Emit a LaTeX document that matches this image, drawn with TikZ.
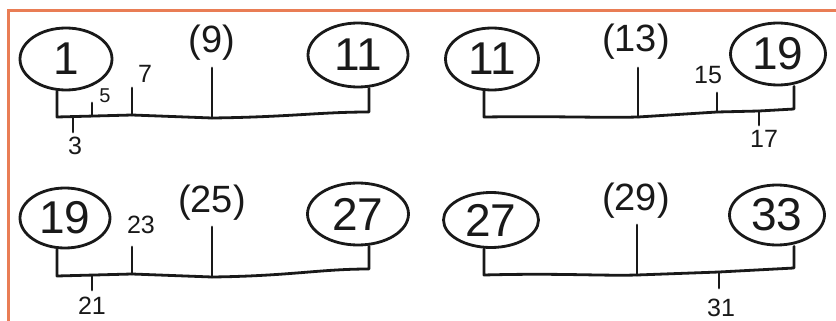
\documentclass[tikz,border=0pt]{standalone}
\usepackage{fontspec}
\setmainfont{Liberation Sans}
\usetikzlibrary{shapes.geometric}
\definecolor{frameorange}{RGB}{233,125,85}
\definecolor{ink}{RGB}{25,25,25}
\begin{document}
\begin{tikzpicture}[x=1pt,y=-1pt,
  oval/.style={ellipse,draw=ink,line width=2.8pt,inner sep=0pt,text=ink,font=\fontsize{46}{46}\selectfont},
  big/.style={text=ink,inner sep=0pt,font=\fontsize{38}{38}\selectfont},
  small/.style={text=ink,inner sep=0pt,font=\fontsize{25}{25}\selectfont},
  tiny/.style={text=ink,inner sep=0pt,font=\fontsize{20}{20}\selectfont},
  wire/.style={draw=ink,line width=2.8pt,line join=round,line cap=round}]
\useasboundingbox (0,0) rectangle (836,321);
\fill[white] (0,0) rectangle (836,321);
% orange frame
\coordinate (fTL) at (8.5,11);
\coordinate (fTR) at (836,11);
\coordinate (fBL) at (8.5,321);
\draw[frameorange,line width=3pt] (fBL) -- (fTL) -- (fTR);

% ---------- panel 1 ----------
\node[oval,minimum width=92pt,minimum height=62pt] (pA1) at (66,59) {1};
\node[oval,minimum width=100pt,minimum height=64pt] (pA11) at (358,55) {11};
\coordinate (a0) at (57,117);
\coordinate (a3) at (73,116.5);
\coordinate (a5) at (92,116);
\coordinate (a7) at (132,115);
\coordinate (a9) at (212,118);
\coordinate (aR) at (369,112);
\draw[wire] (pA1.south -| a0) -- (a0) -- (a7) -- (a9) .. controls (290,117) and (320,112) .. (aR) -- (pA11.south -| aR);
\coordinate (a3b) at (73,132);
\coordinate (a5t) at (92,103);
\coordinate (a7t) at (132,88);
\coordinate (a9t) at (212,68);
\draw[wire] (a3) -- (a3b);
\draw[wire] (a5) -- (a5t);
\draw[wire] (a7) -- (a7t);
\draw[wire] (a9) -- (a9t);
\node[small] (lA3) at (75,146) {3};
\node[tiny] (lA5) at (105,96) {5};
\node[small] (lA7) at (145,74) {7};
\node[big] (lA9) at (212,43) {(9)};

% ---------- panel 2 ----------
\node[oval,minimum width=93pt,minimum height=62pt] (pB11) at (492,59) {11};
\node[oval,minimum width=95pt,minimum height=62pt] (pB19) at (778,54) {19};
\coordinate (b0) at (484,117);
\coordinate (b13) at (638,117);
\coordinate (b15) at (717,112);
\coordinate (b17) at (759,111);
\coordinate (bR) at (794,109);
\draw[wire] (pB11.south -| b0) -- (b0) .. controls (560,116) and (600,118) .. (b13) -- (b15) -- (b17) -- (bR) -- (pB19.south -| bR);
\coordinate (b13t) at (638,68);
\coordinate (b15t) at (717,93);
\coordinate (b17b) at (759,125);
\draw[wire] (b13) -- (b13t);
\draw[wire] (b15) -- (b15t);
\draw[wire] (b17) -- (b17b);
\node[big] (lB13) at (636,42) {(13)};
\node[small] (lB15) at (708,75) {15};
\node[small] (lB17) at (764,139) {17};

% ---------- panel 3 ----------
\node[oval,minimum width=90pt,minimum height=60pt] (pC19) at (65,218) {19};
\node[oval,minimum width=101pt,minimum height=62pt] (pC27) at (358,214) {27};
\coordinate (c0) at (57,276);
\coordinate (c21) at (92,275.5);
\coordinate (c23) at (132,274);
\coordinate (c25) at (212,277);
\coordinate (cR) at (369,269);
\draw[wire] (pC19.south -| c0) -- (c0) -- (c23) -- (c25) .. controls (290,276) and (320,269) .. (cR) -- (pC27.south -| cR);
\coordinate (c21b) at (92,290);
\coordinate (c23t) at (132,247);
\coordinate (c25t) at (212,227);
\draw[wire] (c21) -- (c21b);
\draw[wire] (c23) -- (c23t);
\draw[wire] (c25) -- (c25t);
\node[small] (lC21) at (92,306) {21};
\node[small] (lC23) at (141,225) {23};
\node[big] (lC25) at (212,203) {(25)};

% ---------- panel 4 ----------
\node[oval,minimum width=95pt,minimum height=55pt] (pD27) at (491,220) {27};
\node[oval,minimum width=95pt,minimum height=60pt] (pD33) at (777,215) {33};
\coordinate (d0) at (484,275);
\coordinate (d29) at (637,275);
\coordinate (d31) at (719,272);
\coordinate (dR) at (794,268);
\draw[wire] (pD27.south -| d0) -- (d0) .. controls (560,273) and (600,276) .. (d29) -- (d31) -- (dR) -- (pD33.south -| dR);
\coordinate (d29t) at (637,225);
\coordinate (d31b) at (719,288);
\draw[wire] (d29) -- (d29t);
\draw[wire] (d31) -- (d31b);
\node[big] (lD29) at (636,201) {(29)};
\node[small] (lD31) at (721,308) {31};
\end{tikzpicture}
\end{document}
